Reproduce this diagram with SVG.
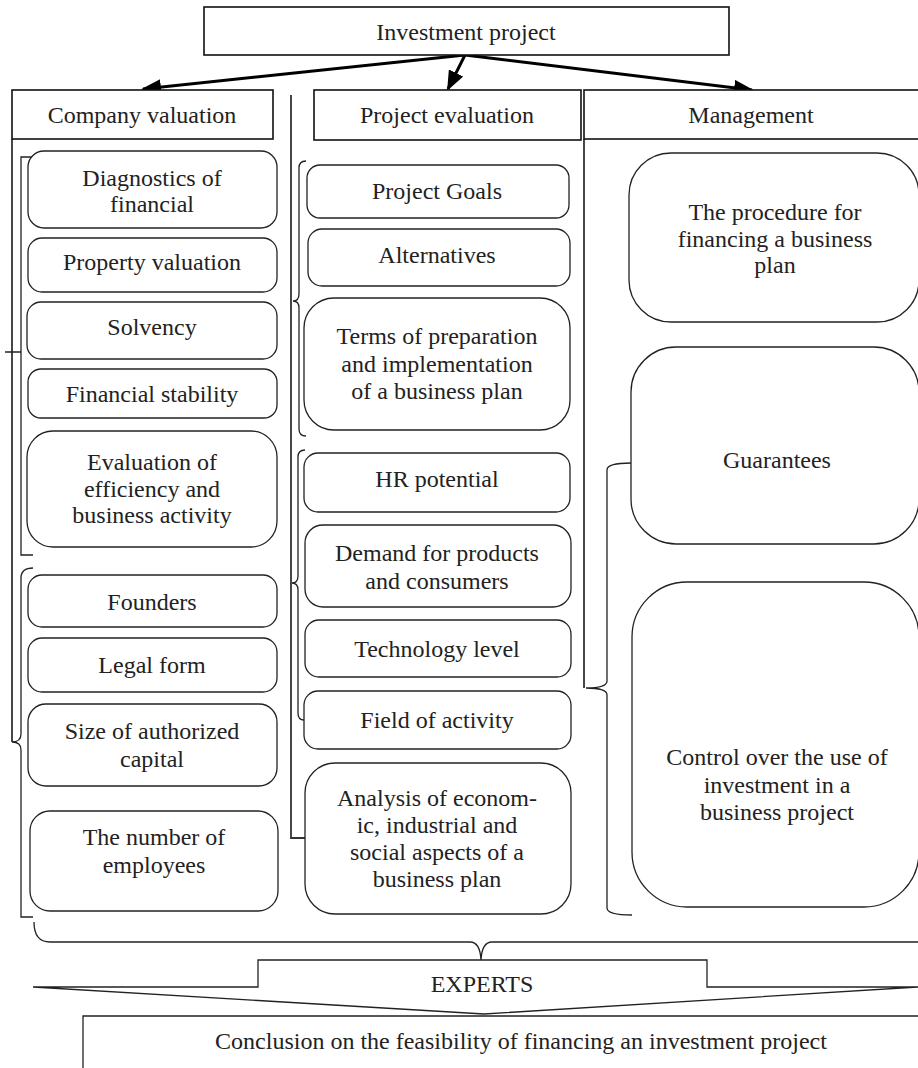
<svg xmlns="http://www.w3.org/2000/svg" width="918" height="1068" viewBox="0 0 918 1068">
<defs>
<marker id="ah" markerWidth="20" markerHeight="16" refX="18" refY="8" orient="auto" markerUnits="userSpaceOnUse"><path d="M0,0 L20,8 L0,16 z" fill="#000"/></marker>
<style>
.hdr{fill:#fff;stroke:#111;stroke-width:1.6}
.box{fill:#fff;stroke:#222;stroke-width:1.3}
.t{font-family:"Liberation Serif","Times New Roman",serif;font-size:24px;fill:#222;text-anchor:middle}
.br{fill:none;stroke:#222;stroke-width:1.3}
.col{fill:none;stroke:#333;stroke-width:1.8}
.arr{fill:none;stroke:#000;stroke-width:3;marker-end:url(#ah)}
</style>
</defs>
<rect width="918" height="1068" fill="#fff"/>

<g id="connectors">
<line class="arr" x1="465" y1="55" x2="143" y2="89"/>
<line class="arr" x1="465" y1="55" x2="448" y2="89"/>
<line class="arr" x1="465" y1="55" x2="752" y2="90"/>
<path class="col" d="M12,139 V742"/>
<path class="col" d="M291,95 V838 H305"/>
<path class="col" d="M584,139 V688" stroke="#555"/>
<path class="br" d="M33,157 H21 V555 H33 M5,352 H21"/>
<path class="br" d="M33,568 Q21,568 21,578 V734 Q21,742 12,742 Q21,742 21,750 V917 H33"/>
<path class="br" d="M306,161 Q299,161 299,168 V294 Q299,301 293,301 Q299,301 299,308 V429 Q299,436 306,436"/>
<path class="br" d="M305,450 Q298,450 298,457 V576 Q298,583 292,583 Q298,583 298,590 V713 Q298,720 304,720"/>
<path class="br" d="M631,463 Q607,463 607,470 V681 Q607,688 586,688 Q607,688 607,695 V908 Q607,915 632,915"/>
<path class="br" d="M34,922 Q34,942 50,942 H470 Q480,942 481,960 Q482,942 492,942 H918"/>
</g>

<g id="investment-project"><rect class="hdr" x="204" y="7" width="525" height="48"/><text class="t" x="466" y="40">Investment project</text></g>
<g id="company-valuation"><rect class="hdr" x="12" y="90" width="261" height="49"/><text class="t" x="142" y="123">Company valuation</text></g>
<g id="project-evaluation"><rect class="hdr" x="314" y="90" width="267" height="50"/><text class="t" x="447" y="123">Project evaluation</text></g>
<g id="management"><rect class="hdr" x="584" y="90" width="340" height="49"/><text class="t" x="751" y="123">Management</text></g>

<g id="diagnostics"><rect class="box" x="28" y="151" width="249" height="77" rx="16"/><text class="t" x="152" y="186">Diagnostics of</text><text class="t" x="152" y="212">financial</text></g>
<g id="property"><rect class="box" x="28" y="238" width="249" height="54" rx="14"/><text class="t" x="152" y="270">Property valuation</text></g>
<g id="solvency"><rect class="box" x="27" y="302" width="250" height="57" rx="14"/><text class="t" x="152" y="335">Solvency</text></g>
<g id="fin-stability"><rect class="box" x="28" y="369" width="249" height="49" rx="13"/><text class="t" x="152" y="402">Financial stability</text></g>
<g id="evaluation"><rect class="box" x="27" y="431" width="250" height="116" rx="26"/><text class="t" x="152" y="470">Evaluation of</text><text class="t" x="152" y="497">efficiency and</text><text class="t" x="152" y="523">business activity</text></g>
<g id="founders"><rect class="box" x="28" y="575" width="249" height="52" rx="14"/><text class="t" x="152" y="610">Founders</text></g>
<g id="legal-form"><rect class="box" x="28" y="638" width="249" height="54" rx="14"/><text class="t" x="152" y="673">Legal form</text></g>
<g id="capital"><rect class="box" x="28" y="704" width="249" height="82" rx="18"/><text class="t" x="152" y="739">Size of authorized</text><text class="t" x="152" y="767">capital</text></g>
<g id="employees"><rect class="box" x="30" y="811" width="248" height="100" rx="20"/><text class="t" x="154" y="845">The number of</text><text class="t" x="154" y="873">employees</text></g>

<g id="goals"><rect class="box" x="307" y="165" width="262" height="53" rx="13"/><text class="t" x="437" y="199">Project Goals</text></g>
<g id="alternatives"><rect class="box" x="308" y="229" width="262" height="57" rx="14"/><text class="t" x="437" y="263">Alternatives</text></g>
<g id="terms"><rect class="box" x="304" y="298" width="266" height="132" rx="30"/><text class="t" x="437" y="344">Terms of preparation</text><text class="t" x="437" y="372">and implementation</text><text class="t" x="437" y="399">of a business plan</text></g>
<g id="hr"><rect class="box" x="304" y="453" width="266" height="59" rx="14"/><text class="t" x="437" y="487">HR potential</text></g>
<g id="demand"><rect class="box" x="305" y="525" width="266" height="82" rx="18"/><text class="t" x="437" y="561">Demand for products</text><text class="t" x="437" y="589">and consumers</text></g>
<g id="technology"><rect class="box" x="305" y="620" width="266" height="57" rx="14"/><text class="t" x="437" y="657">Technology level</text></g>
<g id="field"><rect class="box" x="304" y="691" width="267" height="58" rx="14"/><text class="t" x="437" y="728">Field of activity</text></g>
<g id="analysis"><rect class="box" x="305" y="763" width="266" height="151" rx="30"/><text class="t" x="437" y="806">Analysis of econom-</text><text class="t" x="437" y="833">ic, industrial and</text><text class="t" x="437" y="860">social aspects of a</text><text class="t" x="437" y="887">business plan</text></g>

<g id="procedure"><rect class="box" x="629" y="153" width="290" height="169" rx="42"/><text class="t" x="775" y="220">The procedure for</text><text class="t" x="775" y="247">financing a business</text><text class="t" x="775" y="273">plan</text></g>
<g id="guarantees"><rect class="box" x="631" y="347" width="288" height="197" rx="45"/><text class="t" x="777" y="468">Guarantees</text></g>
<g id="control"><rect class="box" x="632" y="582" width="287" height="325" rx="55"/><text class="t" x="777" y="765">Control over the use of</text><text class="t" x="777" y="793">investment in a</text><text class="t" x="777" y="820">business project</text></g>

<g id="experts"><polygon points="33,987 258,987 258,960 707,960 707,987 918,987 484,1014" fill="#fff" stroke="#222" stroke-width="1.3"/><text class="t" x="482" y="992">EXPERTS</text></g>
<g id="conclusion"><path d="M918,1016 H83 V1068" fill="none" stroke="#222" stroke-width="1.3"/><text class="t" x="521" y="1049">Conclusion on the feasibility of financing an investment project</text></g>
</svg>
